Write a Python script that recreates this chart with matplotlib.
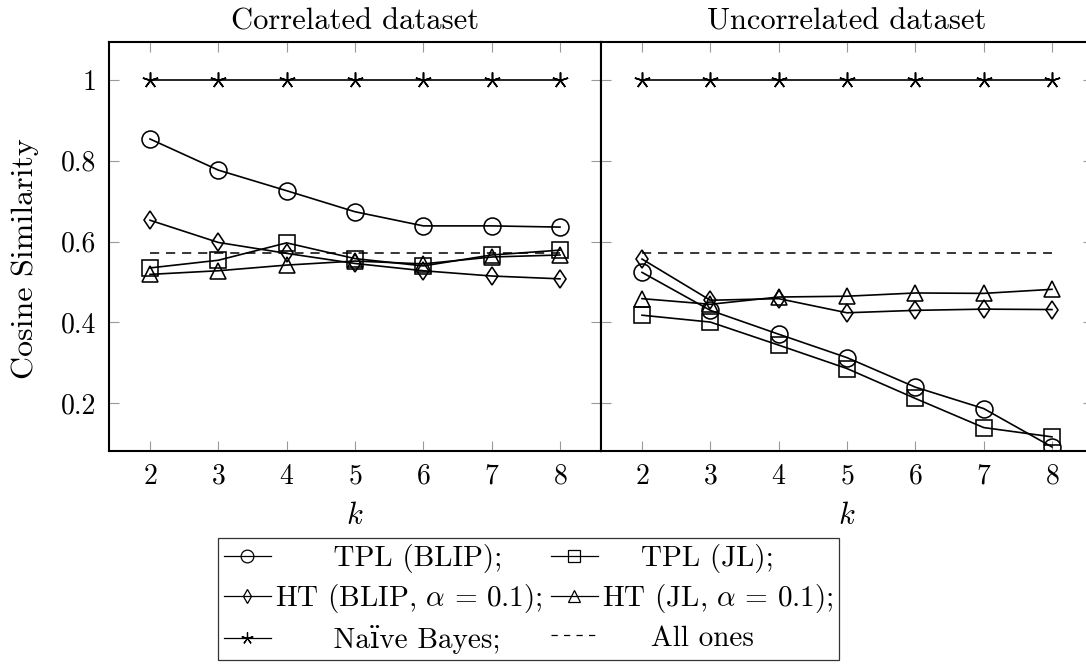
import matplotlib
matplotlib.use("Agg")
import matplotlib.pyplot as plt
from matplotlib.lines import Line2D
from matplotlib.ticker import FixedLocator, FuncFormatter

plt.rcParams['font.family'] = ['cmr10', 'DejaVu Serif']
plt.rcParams['mathtext.fontset'] = 'cm'
plt.rcParams['axes.formatter.use_mathtext'] = True

k = [2, 3, 4, 5, 6, 7, 8]

# Correlated dataset
corr_tpl_blip = [0.854, 0.777, 0.726, 0.674, 0.639, 0.639, 0.636]
corr_tpl_jl = [0.535, 0.554, 0.597, 0.558, 0.540, 0.567, 0.579]
corr_ht_blip = [0.653, 0.598, 0.571, 0.546, 0.528, 0.515, 0.508]
corr_ht_jl = [0.519, 0.528, 0.542, 0.552, 0.545, 0.562, 0.567]
corr_nb = [1, 1, 1, 1, 1, 1, 1]

# Uncorrelated dataset
unc_tpl_blip = [0.524, 0.430, 0.371, 0.313, 0.240, 0.187, 0.092]
unc_tpl_jl = [0.418, 0.401, 0.344, 0.286, 0.212, 0.140, 0.117]
unc_ht_blip = [0.557, 0.455, 0.459, 0.424, 0.430, 0.433, 0.432]
unc_ht_jl = [0.459, 0.445, 0.463, 0.465, 0.473, 0.472, 0.482]
unc_nb = [1, 1, 1, 1, 1, 1, 1]

all_ones = 0.571

titles = ["Correlated dataset", "Uncorrelated dataset"]
y_ticks = [0.2, 0.4, 0.6, 0.8, 1.0]
labels = ["TPL (BLIP);", "TPL (JL);", r"HT (BLIP, $\alpha\,=\,0.1$);",
          r"HT (JL, $\alpha\,=\,0.1$);", "Naïve Bayes;", "All ones"]

W, H = 1086, 664
fig = plt.figure(figsize=(W / 100, H / 100), dpi=100)

def px(l, t, r, b):
    return [l / W, 1 - b / H, (r - l) / W, (b - t) / H]

ax1 = fig.add_axes(px(109, 42, 601, 451))
ax2 = fig.add_axes(px(601, 42, 1093, 451))

lw = 1.2
styles = dict(
    tpl_blip=dict(marker='o', ms=12.2),
    tpl_jl=dict(marker='s', ms=11),
    ht_blip=dict(marker='d', ms=9.5),
    ht_jl=dict(marker='^', ms=11.5),
    nb=dict(marker=(5, 2, 0), ms=11.5),
)

datasets = [
    (corr_tpl_blip, corr_tpl_jl, corr_ht_blip, corr_ht_jl, corr_nb),
    (unc_tpl_blip, unc_tpl_jl, unc_ht_blip, unc_ht_jl, unc_nb),
]

for ax, data, title in zip([ax1, ax2], datasets, titles):
    for series, key in zip(data, ['tpl_blip', 'tpl_jl', 'ht_blip', 'ht_jl', 'nb']):
        st = styles[key]
        ax.plot(k, series, color='black', lw=lw, marker=st['marker'], ms=st['ms'],
                mfc='none', mec='black', mew=1.15, zorder=3)
    ax.plot([k[0], k[-1]], [all_ones, all_ones], color='black', lw=1.1,
            ls=(0, (6, 4.5)), zorder=2)
    ax.set_xlim(1.4, 8.6)
    ax.set_ylim(0.082, 1.094)
    ax.xaxis.set_major_locator(FixedLocator(k))
    ax.yaxis.set_major_locator(FixedLocator(y_ticks))
    ax.tick_params(direction='in', length=7, width=0.8, color='#999999',
                   top=True, right=True, labelsize=20, pad=9)
    for s in ax.spines.values():
        s.set_linewidth(1.5)
    ax.set_title(title, fontsize=22, pad=9)
    ax.set_xlabel('$k$', fontsize=22, labelpad=9)

ax1.yaxis.set_major_formatter(FuncFormatter(lambda v, p: '1' if abs(v - 1) < 1e-9 else f'{v:.1f}'))
ax2.tick_params(labelleft=False)
ax1.set_ylabel('Cosine Similarity', fontsize=23)
ax1.yaxis.set_label_coords(-0.142, 0.47)

handles = []
for key in ['tpl_blip', 'ht_blip', 'nb', 'tpl_jl', 'ht_jl']:
    st = styles[key]
    handles.append(Line2D([], [], color='black', lw=0.9, marker=st['marker'],
                          ms=st['ms'] * 0.75, mfc='none', mec='black', mew=0.9))
handles.append(Line2D([], [], color='black', lw=0.9, ls=(0, (5, 5))))
leg_labels = ["      " + labels[0], labels[2], "      " + labels[4],
              "    " + labels[1], labels[3], "     " + labels[5]]
# column-wise: col1 = tpl_blip, ht_blip, nb; col2 = tpl_jl, ht_jl, all ones
leg = fig.legend(handles, leg_labels, ncol=2, loc='upper left',
                 bbox_to_anchor=(218 / W, 1 - 538 / H), fontsize=21,
                 frameon=True, fancybox=False, edgecolor='black',
                 handlelength=1.6, handletextpad=0.15, columnspacing=0.3,
                 labelspacing=0.33, borderpad=0.2, borderaxespad=0)
leg.get_frame().set_linewidth(0.9)

fig.savefig('out.png', dpi=100)
